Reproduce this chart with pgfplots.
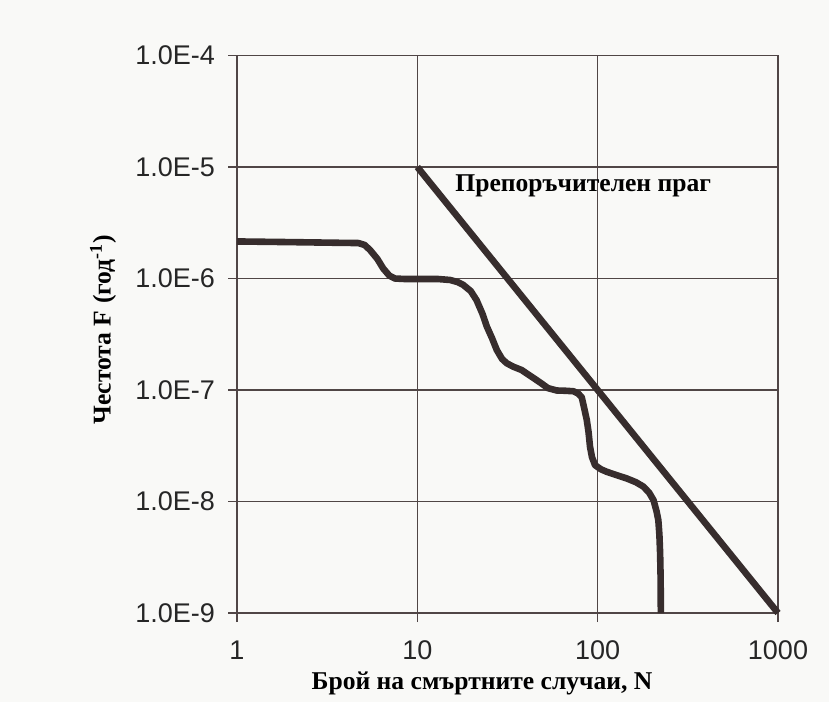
\documentclass[border=0pt]{standalone}
\usepackage{fontspec}
\setmainfont{Liberation Serif}
\newfontfamily\sansf{Liberation Sans}
\usepackage{pgfplots}
\pgfplotsset{compat=1.18}
\definecolor{ink}{RGB}{55,45,45}
\definecolor{gridc}{RGB}{80,70,70}
\definecolor{paper}{RGB}{249,249,247}
\begin{document}
\begin{tikzpicture}
\fill[paper] (-118.5pt,-44.5pt) rectangle (296pt,306.5pt);
\begin{axis}[
  at={(0,0)}, anchor=south west,
  scale only axis, width=270.5pt, height=278.75pt,
  xmode=log, ymode=log,
  xmin=1, xmax=1000, ymin=1e-9, ymax=1e-4,
  xtick={1,10,100,1000}, xticklabels={1,10,100,1000},
  ytick={1e-9,1e-8,1e-7,1e-6,1e-5,1e-4},
  yticklabels={1.0E-9,1.0E-8,1.0E-7,1.0E-6,1.0E-5,1.0E-4},
  xminorticks=false, yminorticks=false,
  tick pos=left,
  grid=major, major grid style={gridc, line width=0.7pt},
  axis line style={gridc, line width=0.7pt},
  major tick style={gridc, line width=0.7pt},
  tick align=outside, major tick length=4.5pt,
  tick label style={font=\sansf\fontsize{13.5}{13.5}\selectfont, text=black!85},
  xticklabel style={yshift=-6pt},
  yticklabel style={xshift=-3pt},
  xlabel={Брой на смъртните случаи, N},
  ylabel={Честота F (год\textsuperscript{-1})},
  label style={font=\bfseries\fontsize{12.8}{12.8}\selectfont},
  xlabel style={at={(axis description cs:0.453,0)}, anchor=center, yshift=-35pt},
  ylabel style={at={(axis description cs:-0.2477,0.508)}, anchor=center},
  clip=false,
]
\addplot[ink, line width=3.3pt, line join=round, line cap=butt] coordinates {
 (1,2.15e-6) (2,2.12e-6) (3.73,2.09e-6) (4.71,2.08e-6) (5.1,2.0e-6) (5.47,1.8e-6)
 (6.0,1.5e-6) (6.47,1.23e-6) (7.0,1.06e-6) (7.52,1.0e-6) (8.5,0.99e-6) (10,0.99e-6)
 (13,0.99e-6) (15.2,0.97e-6) (16.7,0.93e-6) (18,0.875e-6) (19.8,0.77e-6) (21.3,0.64e-6)
 (23,0.48e-6) (24.3,0.37e-6) (26,0.29e-6) (27.6,0.228e-6) (29.5,0.19e-6) (31.3,0.174e-6)
 (34,0.162e-6) (37.9,0.151e-6) (42,0.135e-6) (47.9,0.117e-6) (53,0.104e-6) (59.3,0.99e-7)
 (66,0.985e-7) (73.3,0.975e-7) (78,0.93e-7) (81.6,0.86e-7) (84,0.7e-7) (87,0.54e-7)
 (89,0.42e-7) (90.7,0.31e-7) (93,0.25e-7) (96.7,2.12e-8) (104,1.95e-8)
 (112,1.85e-8) (128,1.72e-8) (145,1.61e-8) (163,1.49e-8) (179.4,1.36e-8)
 (193,1.2e-8) (204,1.03e-8) (212,0.82e-8) (217,0.68e-8) (220,0.5e-8)
 (222,0.34e-8) (223.5,0.2e-8) (224,1e-9)
};
\addplot[ink, line width=3.3pt, line cap=butt] coordinates {(10,1e-5) (1000,1e-9)};
\node[font=\bfseries\fontsize{12.8}{12.8}\selectfont, text=black] at (axis description cs:0.64,0.766) {Препоръчителен праг};
\end{axis}
\end{tikzpicture}
\end{document}
